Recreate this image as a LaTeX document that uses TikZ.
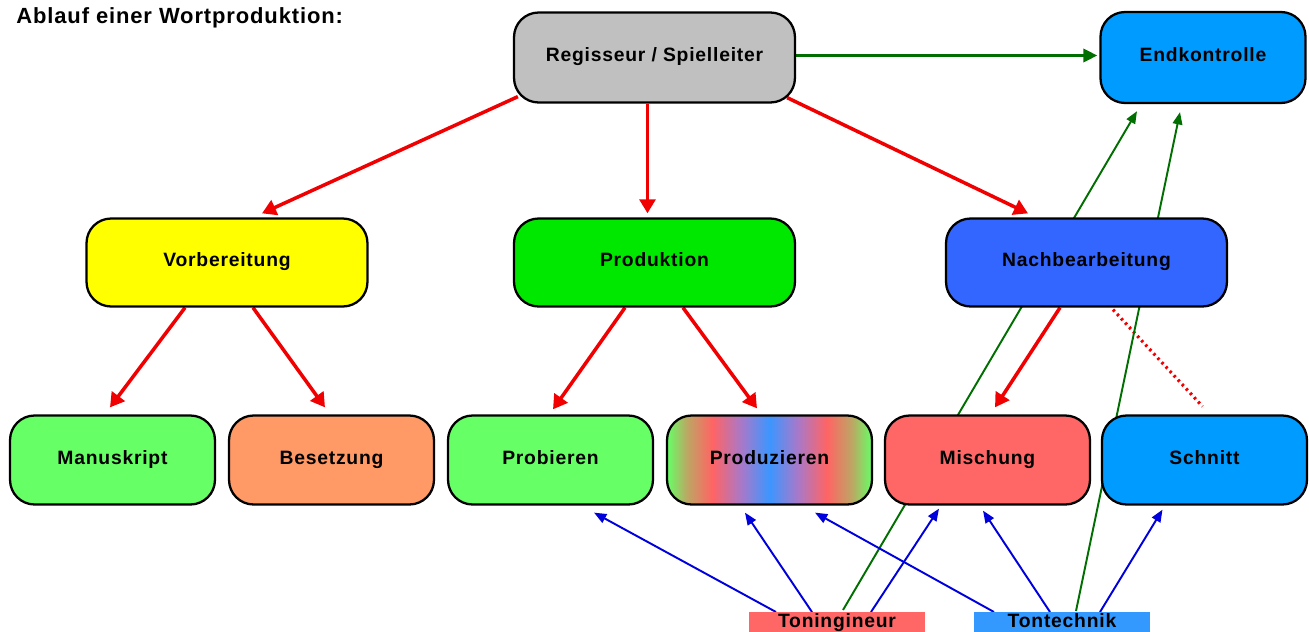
\documentclass[tikz,border=0pt]{standalone}
\usepackage{fontspec}
\setmainfont{Liberation Sans}
\newfontfamily\labfont[LetterSpace=4]{Liberation Sans}
\usetikzlibrary{arrows.meta,calc}
\definecolor{cgray}{RGB}{192,192,192}
\definecolor{cend}{RGB}{0,155,255}
\definecolor{cyel}{RGB}{255,255,0}
\definecolor{cprodk}{RGB}{0,232,0}
\definecolor{cnach}{RGB}{51,102,255}
\definecolor{clgreen}{RGB}{102,255,102}
\definecolor{corange}{RGB}{255,153,102}
\definecolor{cmisch}{RGB}{255,102,102}
\definecolor{ctech}{RGB}{51,153,255}
\definecolor{cred}{RGB}{240,0,0}
\definecolor{cdkgreen}{RGB}{0,110,0}
\definecolor{cblue}{RGB}{0,0,220}
\definecolor{sgreen}{RGB}{102,255,102}
\definecolor{solive}{RGB}{190,165,100}
\definecolor{sred}{RGB}{255,100,100}
\definecolor{spurple}{RGB}{170,120,200}
\definecolor{sblue}{RGB}{60,150,255}
\pgfdeclarehorizontalshading{prodshade}{100bp}{color(0bp)=(sgreen); color(25bp)=(sgreen); color(30bp)=(solive); color(36bp)=(sred); color(43bp)=(spurple); color(50bp)=(sblue); color(57bp)=(spurple); color(64bp)=(sred); color(70bp)=(solive); color(75bp)=(sgreen); color(100bp)=(sgreen)}
\pgfdeclarelayer{bg}
\pgfsetlayers{bg,main}
\tikzset{
  box/.style={draw, line width=1.3pt, rounded corners=14pt, inner sep=0pt,
    text height=8pt, text depth=3pt,
    font=\labfont\fontsize{11pt}{13pt}\selectfont\bfseries},
  wide/.style={minimum width=5.62cm, minimum height=1.76cm},
  small/.style={minimum width=4.1cm, minimum height=1.78cm},
  tag/.style={anchor=north, inner xsep=0pt, inner ysep=0.6pt, text height=8pt, text depth=4pt,
    minimum width=3.54cm, font=\labfont\fontsize{11pt}{13pt}\selectfont\bfseries},
  redarr/.style={draw=cred, line width=2pt, -{Triangle[length=8pt,width=9pt]}},
  reddot/.style={draw=cred, line width=1.8pt, dash pattern=on 1.4pt off 2pt},
  greenthick/.style={draw=cdkgreen, line width=1.8pt, -{Triangle[length=8pt,width=7.5pt]}},
  greenarr/.style={draw=cdkgreen, line width=1.1pt, -{Triangle[length=7pt,width=5.5pt]}},
  bluearr/.style={draw=cblue, line width=1.1pt, -{Triangle[length=7pt,width=5.5pt]}}
}
\begin{document}
\begin{tikzpicture}[x=0.02cm,y=-0.02cm]
\useasboundingbox (0,0) rectangle (1309,632);
\clip (0,0) rectangle (1309,632);

\node[anchor=base west, inner sep=0pt, font=\labfont\fontsize{12.5pt}{14pt}\selectfont\bfseries] (title) at (16,24) {Ablauf einer Wortproduktion:};

\node[box, wide, fill=cgray, minimum height=1.8cm] (reg) at (654.5,57.5) {Regisseur / Spielleiter};
\node[box, fill=cend, minimum width=4.1cm, minimum height=1.82cm] (end) at (1203,57.5) {Endkontrolle};

\node[box, wide, fill=cyel] (vor) at (227,262.5) {Vorbereitung};
\node[box, wide, fill=cprodk] (prodk) at (654.5,262.5) {Produktion};
\node[box, wide, fill=cnach] (nach) at (1086.5,262.5) {Nachbearbeitung};

\node[box, small, fill=clgreen] (man) at (112.5,460) {Manuskript};
\node[box, small, fill=corange] (bes) at (331.5,460) {Besetzung};
\node[box, small, fill=clgreen] (prob) at (550.5,460) {Probieren};
\node[box, small, shading=prodshade] (produ) at (769.5,460) {Produzieren};
\node[box, small, fill=cmisch] (misch) at (987.5,460) {Mischung};
\node[box, small, fill=cend] (schn) at (1204.5,460) {Schnitt};

\node[tag, fill=cmisch] (ton) at (837,612) {Toningineur};
\node[tag, fill=ctech] (tech) at (1062,612) {Tontechnik};

\begin{pgfonlayer}{bg}
% red hierarchy arrows
\draw[redarr] ([shift={(5,-7)}]reg.south west) -- ([shift={(35,-4)}]vor.north);
\draw[redarr] ([shift={(-7,0)}]reg.south) -- ([shift={(-7,-4)}]prodk.north);
\draw[redarr] ([shift={(-9,-6)}]reg.south east) -- ([shift={(-58.5,-4)}]nach.north);
\draw[redarr] ([shift={(-42,0)}]vor.south) -- ([shift={(-2.5,-7)}]man.north);
\draw[redarr] ([shift={(26,0)}]vor.south) -- ([shift={(-6.5,-7)}]bes.north);
\draw[redarr] ([shift={(-29.5,0)}]prodk.south) -- ([shift={(2.5,-5)}]prob.north);
\draw[redarr] ([shift={(28.5,0)}]prodk.south) -- ([shift={(-12.5,-6)}]produ.north);
\draw[redarr] ([shift={(-26.5,0)}]nach.south) -- ([shift={(7.5,-7)}]misch.north);
\draw[reddot] ([shift={(26.5,2)}]nach.south) -- ([shift={(-2,-8)}]schn.north);
% green control arrows
\draw[greenthick] ([shift={(0,-2)}]reg.east) -- ([shift={(-2,-2)}]end.west);
\draw[greenarr] ([shift={(6,-2)}]ton.north) -- ([shift={(-66,7)}]end.south);
\draw[greenarr] ([shift={(14,-1)}]tech.north) -- ([shift={(-23,8)}]end.south);
% blue arrows
\draw[bluearr] ([shift={(-61,0)}]ton.north) -- ([shift={(43.5,7)}]prob.south);
\draw[bluearr] ([shift={(-25,0)}]ton.north) -- ([shift={(-24.5,7)}]produ.south);
\draw[bluearr] ([shift={(34,0)}]ton.north) -- ([shift={(-48.5,3)}]misch.south);
\draw[bluearr] ([shift={(-68,0)}]tech.north) -- ([shift={(45.5,7)}]produ.south);
\draw[bluearr] ([shift={(-12,0)}]tech.north) -- ([shift={(-4.5,5)}]misch.south);
\draw[bluearr] ([shift={(38,0)}]tech.north) -- ([shift={(-42,4)}]schn.south);
\end{pgfonlayer}
\end{tikzpicture}
\end{document}
